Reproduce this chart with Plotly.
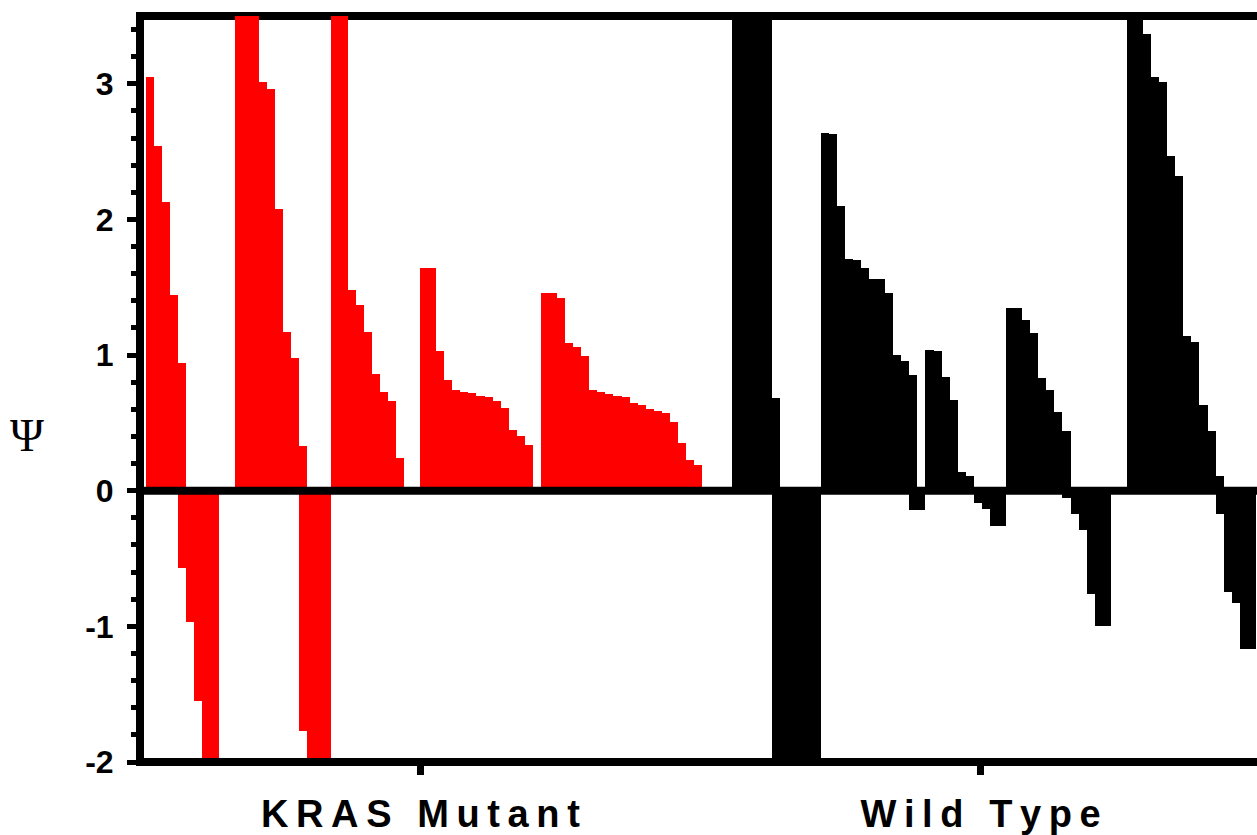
import plotly.graph_objects as go

# ---------------- data ----------------
# one entry per bar slot; None = empty slot
kras_pos = [3.05, 2.54, 2.13, 1.44, 0.94,
            None, None, None, None, None, None,
            4.4, 4.0, 3.7, 3.01, 2.96, 2.08, 1.17, 0.98, 0.33,
            None, None, None,
            4.2, 3.8, 1.48, 1.37, 1.17, 0.86, 0.73, 0.66, 0.24,
            None, None,
            1.64, 1.64, 1.03, 0.82, 0.74, 0.73, 0.72, 0.70, 0.69, 0.66, 0.61, 0.45, 0.40, 0.34,
            None,
            1.46, 1.46, 1.42, 1.09, 1.06, 0.99, 0.74, 0.73, 0.71, 0.70, 0.69, 0.65, 0.63,
            0.60, 0.59, 0.57, 0.51, 0.35, 0.23, 0.19]
kras_neg = [None, None, None, None, -0.57, -0.97, -1.55, -2.3, -2.6,
            None, None, None, None, None, None, None, None, None, None,
            -1.77, -2.2, -2.5, -2.9] + [None] * 46

wt_pos = [5.0, 4.7, 4.4, 4.1, 3.8, 0.68,
          None, None, None, None, None,
          2.64, 2.63, 2.10, 1.71, 1.70, 1.64, 1.56, 1.56, 1.46, 1.00, 0.96, 0.85,
          None,
          1.04, 1.03, 0.84, 0.67, 0.14, 0.11,
          None, None, None, None,
          1.35, 1.35, 1.26, 1.16, 0.83, 0.74, 0.58, 0.44,
          None, None, None, None, None, None, None,
          3.9, 3.6, 3.37, 3.05, 3.01, 2.47, 2.32, 1.14, 1.10, 0.63, 0.44, 0.11,
          None, None, None, None, None]
wt_neg = ([None] * 5 + [-2.2, -2.4, -2.6, -2.8, -3.0, -3.3] + [None] * 11
          + [-0.14, -0.14] + [None] * 6 + [-0.09, -0.135, -0.26, -0.26]
          + [None] * 7 + [-0.05, -0.17, -0.29, -0.76, -1.00, -1.00]
          + [None] * 13 + [-0.17, -0.75, -0.83, -1.17, -1.17, None])

group_labels = ["K\u2009R\u2009A\u2009S\u2009 \u2009M\u2009u\u2009t\u2009a\u2009n\u2009t",
                "W\u2009i\u2009l\u2009d\u2009 \u2009T\u2009y\u2009p\u2009e"]
y_tickvals = [-2, -1, 0, 1, 2, 3]
y_ticktext = ["-2", "-1", "0", "1", "2", "3"]
y_title = "\u03a8"

# ---------------- layout constants ----------------
W, H = 1257, 835
ML, MT, MB = 140, 16, 73
PLOT_W = W - ML
PLOT_H = H - MT - MB
SLOT = 8.06                 # px per bar slot
RED_X0 = 146.0              # px, first KRAS slot left edge
WT_X0 = 732.0               # px, first WT slot left edge
wt_offset = (WT_X0 - RED_X0) / SLOT
x_range = [(ML - RED_X0) / SLOT, (W - RED_X0) / SLOT]
tick_pos = [(420.4 - RED_X0) / SLOT, (980.6 - RED_X0) / SLOT]
y_range = [-2, 3.5]

kras_x = [k + 0.5 for k in range(len(kras_pos))]
wt_x = [wt_offset + j + 0.5 for j in range(len(wt_pos))]

fig = go.Figure()
for xs, ys, col in [(kras_x, kras_pos, "#ff0000"), (kras_x, kras_neg, "#ff0000"),
                    (wt_x, wt_pos, "#000000"), (wt_x, wt_neg, "#000000")]:
    fig.add_trace(go.Bar(x=xs, y=ys, width=1.0, marker=dict(color=col, line=dict(width=0)),
                         showlegend=False, hoverinfo="skip"))

LW = 8
ext_x = 4.0 / PLOT_W
ext_y = 4.0 / PLOT_H
zero_p = (0 - y_range[0]) / (y_range[1] - y_range[0])
shapes = [
    dict(type="line", xref="paper", yref="paper", x0=-ext_x, x1=1, y0=1, y1=1,
         line=dict(color="black", width=LW), layer="below"),
    dict(type="line", xref="paper", yref="paper", x0=-ext_x, x1=1, y0=0, y1=0,
         line=dict(color="black", width=LW), layer="above"),
    dict(type="line", xref="paper", yref="paper", x0=0, x1=1, y0=zero_p, y1=zero_p,
         line=dict(color="black", width=LW), layer="above"),
    dict(type="line", xref="paper", yref="paper", x0=0, x1=0, y0=-ext_y, y1=1 + ext_y,
         line=dict(color="black", width=LW), layer="above"),
]

fig.update_layout(
    width=W, height=H,
    margin=dict(l=ML, r=0, t=MT, b=MB, pad=0),
    paper_bgcolor="white", plot_bgcolor="white",
    barmode="overlay", bargap=0,
    shapes=shapes,
    xaxis=dict(range=x_range, showgrid=False, zeroline=False, showline=False,
               automargin=False,
               tickmode="array", tickvals=tick_pos, ticktext=group_labels,
               ticks="outside", ticklen=12, tickwidth=7, tickcolor="black",
               tickfont=dict(family="Liberation Sans, Arial", size=38, color="black", weight="bold"),
               ticklabelstandoff=6),
    yaxis=dict(range=y_range, showgrid=False, zeroline=False, showline=False,
               automargin=False,
               tickmode="array", tickvals=y_tickvals, ticktext=y_ticktext,
               ticks="outside", ticklen=12, tickwidth=5, tickcolor="black",
               tickfont=dict(family="Liberation Sans, Arial", size=32, color="black", weight="bold"),
               ticklabelstandoff=7,
               minor=dict(tickmode="linear", tick0=0, dtick=0.2, ticks="outside",
                          ticklen=8, tickwidth=5, tickcolor="black")),
    annotations=[dict(text=y_title, xref="paper", yref="paper",
                      x=(26.7 - ML) / PLOT_W, y=(H - MB - 436) / PLOT_H,
                      xanchor="center", yanchor="middle", showarrow=False,
                      font=dict(family="Liberation Serif, Times New Roman", size=46, color="black"))],
)

fig.write_html("out.html")
